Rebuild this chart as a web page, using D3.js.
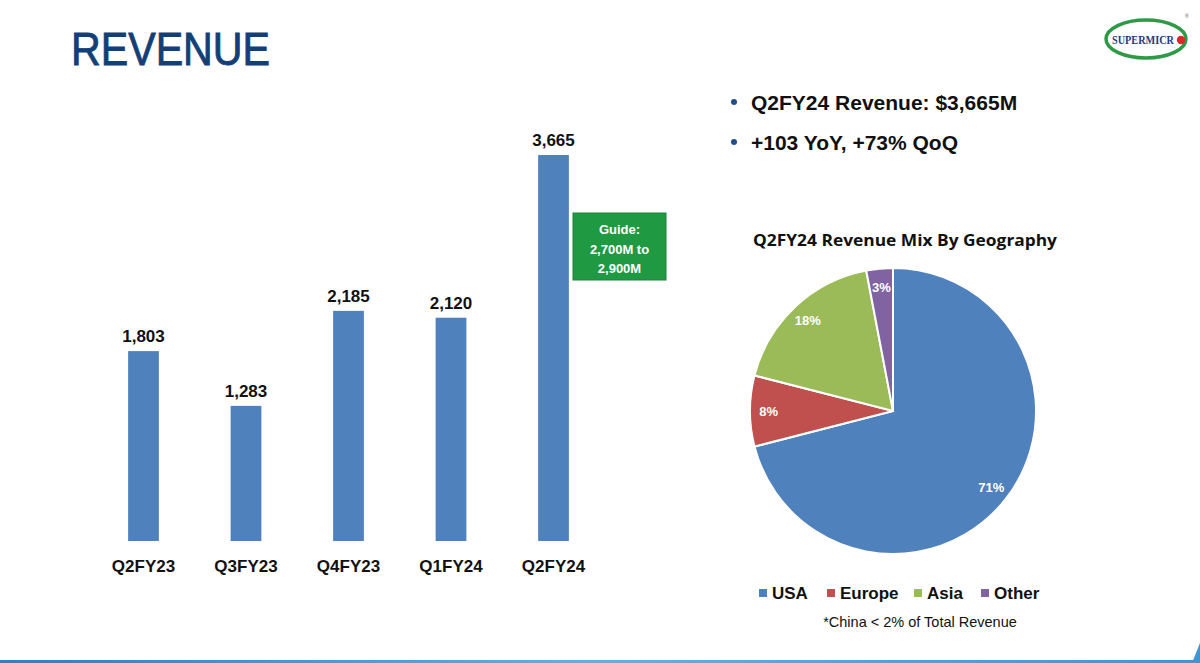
<!DOCTYPE html>
<html>
<head>
<meta charset="utf-8">
<script src="https://cdn.jsdelivr.net/npm/d3@7"></script>
<style>
  html, body { margin: 0; padding: 0; background: #fff; }
  svg text { font-family: "Liberation Sans", Arial, sans-serif; }
</style>
</head>
<body>
<div id="graf"></div>
<script>
// datos de barras
const trimestres = ['Q2FY23', 'Q3FY23', 'Q4FY23', 'Q1FY24', 'Q2FY24']
const ingresos = [1803, 1283, 2185, 2120, 3665]

// datos del pie
const regiones = ['USA', 'Europe', 'Asia', 'Other']
const porcentajes = [71, 8, 18, 3]
const coloresRegion = ['#4f81bd', '#c0504d', '#9bbb59', '#8064a2']

const guiaLineas = ['Guide:', '2,700M to', '2,900M']
const bullets = ['Q2FY24 Revenue: $3,665M', '+103 YoY, +73% QoQ']

const ancho_total = 1200
const alto_total = 663

const svg = d3.select('#graf').append('svg')
  .attr('width', ancho_total)
  .attr('height', alto_total)

// titulo
svg.append('text')
  .attr('x', 71).attr('y', 65)
  .attr('font-size', 47)
  .attr('textLength', 199)
  .attr('lengthAdjust', 'spacingAndGlyphs')
  .attr('fill', '#123f75')
  .attr('stroke', '#123f75').attr('stroke-width', 0.9)
  .text('REVENUE')

// logo
const logo = svg.append('g')
logo.append('ellipse')
  .attr('cx', 1146).attr('cy', 39).attr('rx', 40).attr('ry', 19)
  .attr('fill', '#fff').attr('stroke', '#2e9a47').attr('stroke-width', 3.5)
logo.append('text')
  .attr('x', 1143).attr('y', 44)
  .attr('text-anchor', 'middle')
  .attr('font-size', 13).attr('font-weight', 'bold')
  .attr('textLength', 62).attr('lengthAdjust', 'spacingAndGlyphs')
  .style('font-family', '"Liberation Serif", serif')
  .attr('fill', '#1f3b7e')
  .text('SUPERMICR')
logo.append('circle').attr('cx', 1181).attr('cy', 40).attr('r', 4.2).attr('fill', '#e0262b')
logo.append('text').attr('x', 1185).attr('y', 18).attr('font-size', 5).attr('fill', '#555').text('®')

// ---- grafico de barras ----
const y0 = 541
const y = d3.scaleLinear().domain([0, 3665]).range([y0, 155])
const x = d3.scaleBand()
  .domain(trimestres)
  .range([92.25, 604.75])
  .paddingInner(0.7)
  .paddingOuter(0.35)

const datos = trimestres.map((t, i) => ({ t: t, v: ingresos[i] }))

const g = svg.append('g')
g.selectAll('rect.barra')
  .data(datos)
  .enter().append('rect')
  .attr('class', 'barra')
  .attr('x', d => x(d.t))
  .attr('y', d => y(d.v))
  .attr('width', x.bandwidth())
  .attr('height', d => y0 - y(d.v))
  .attr('fill', '#4f81bd')

g.selectAll('text.valor')
  .data(datos)
  .enter().append('text')
  .attr('class', 'valor')
  .attr('x', d => x(d.t) + x.bandwidth() / 2)
  .attr('y', d => y(d.v) - 9)
  .attr('text-anchor', 'middle')
  .attr('font-size', 17).attr('font-weight', 'bold')
  .attr('fill', '#111')
  .text(d => d3.format(',')(d.v))

const xAxis = g.append('g').attr('transform', `translate(0, ${y0})`)
  .call(d3.axisBottom(x).tickSize(0).tickPadding(19))
xAxis.select('.domain').remove()
xAxis.selectAll('text')
  .attr('font-size', 17).attr('font-weight', 'bold')
  .attr('fill', '#111')
  .style('font-family', '"Liberation Sans", Arial, sans-serif')

// caja guia
const guia = svg.append('g')
guia.append('rect')
  .attr('x', 573).attr('y', 213).attr('width', 93).attr('height', 67)
  .attr('fill', '#1f9a43').attr('stroke', '#17863a').attr('stroke-width', 1)
guia.selectAll('text')
  .data(guiaLineas)
  .enter().append('text')
  .attr('x', 619.5)
  .attr('y', (d, i) => 234 + i * 19.5)
  .attr('text-anchor', 'middle')
  .attr('font-size', 13).attr('font-weight', 'bold')
  .attr('fill', '#fff')
  .text(d => d)

// bullets
const bl = svg.append('g')
bullets.forEach((b, i) => {
  bl.append('circle').attr('cx', 734).attr('cy', 102 + i * 40).attr('r', 3).attr('fill', '#1f4e8c')
  bl.append('text')
    .attr('x', 751).attr('y', 110 + i * 40)
    .attr('font-size', 21).attr('font-weight', 'bold')
    .attr('fill', '#111')
    .text(b)
})

// ---- pie ----
svg.append('text')
  .attr('x', 905).attr('y', 246)
  .attr('text-anchor', 'middle')
  .attr('font-size', 16).attr('font-weight', 'bold')
  .attr('textLength', 304).attr('lengthAdjust', 'spacingAndGlyphs')
  .style('font-family', '"Open Sans", "Noto Sans", sans-serif')
  .attr('fill', '#111')
  .text('Q2FY24 Revenue Mix By Geography')

const radio = 143
const pieG = svg.append('g').attr('transform', 'translate(893, 411)')
const pie = d3.pie().sort(null).value(d => d.p)
const arco = d3.arc().innerRadius(0).outerRadius(radio)
const arcoTexto = d3.arc().innerRadius(radio * 0.87).outerRadius(radio * 0.87)
const datosPie = regiones.map((r, i) => ({ r: r, p: porcentajes[i], c: coloresRegion[i] }))

pieG.selectAll('path')
  .data(pie(datosPie))
  .enter().append('path')
  .attr('d', arco)
  .attr('fill', d => d.data.c)
  .attr('stroke', '#fff').attr('stroke-width', 2)

pieG.selectAll('text')
  .data(pie(datosPie))
  .enter().append('text')
  .attr('transform', d => `translate(${arcoTexto.centroid(d)})`)
  .attr('dy', '0.35em')
  .attr('text-anchor', 'middle')
  .attr('font-size', 13).attr('font-weight', 'bold')
  .attr('fill', '#fff')
  .text(d => d.data.p + '%')

// leyenda
const leyX = [759, 827, 914, 981]
const leyenda = svg.append('g')
datosPie.forEach((d, i) => {
  leyenda.append('rect').attr('x', leyX[i]).attr('y', 589).attr('width', 8).attr('height', 8).attr('fill', d.c)
  leyenda.append('text')
    .attr('x', leyX[i] + 13).attr('y', 599)
    .attr('font-size', 17).attr('font-weight', 'bold')
    .attr('fill', '#111')
    .text(d.r)
})
svg.append('text')
  .attr('x', 920).attr('y', 627)
  .attr('text-anchor', 'middle')
  .attr('font-size', 14.5)
  .attr('fill', '#111')
  .text('*China < 2% of Total Revenue')

// linea inferior
const grad = svg.append('defs').append('linearGradient').attr('id', 'lineaAzul')
grad.append('stop').attr('offset', '0%').attr('stop-color', '#2f7fc1')
grad.append('stop').attr('offset', '50%').attr('stop-color', '#5fb0e3')
grad.append('stop').attr('offset', '100%').attr('stop-color', '#3d95d4')
svg.append('rect').attr('x', 0).attr('y', 660).attr('width', 1200).attr('height', 3).attr('fill', 'url(#lineaAzul)')
svg.append('path').attr('d', 'M1192,663 L1200,643 L1200,663 Z').attr('fill', '#3d95d4')
</script>
</body>
</html>
